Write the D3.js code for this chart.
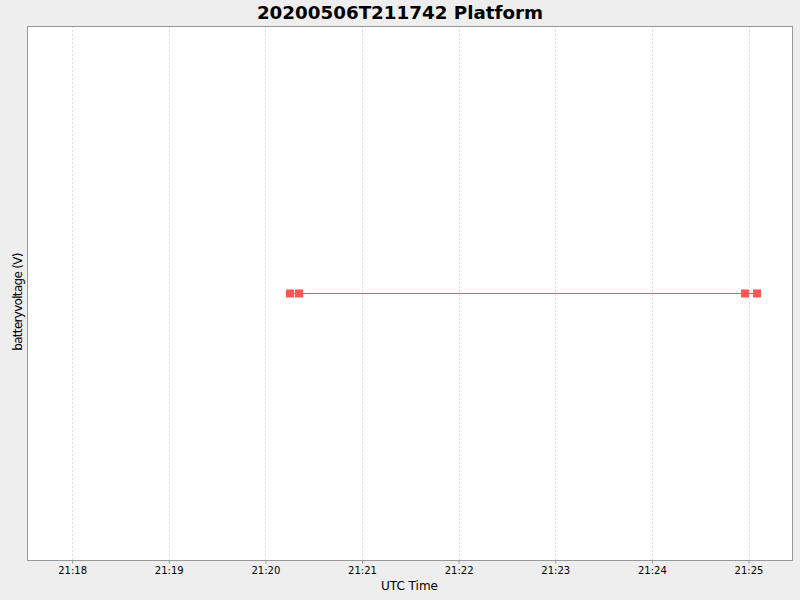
<!DOCTYPE html>
<html>
<head>
<meta charset="utf-8">
<script src="https://cdn.jsdelivr.net/npm/d3@7"></script>
<style>
  body { margin: 0; background: #eeeeee; }
  svg { display: block; font-family: "DejaVu Sans", sans-serif; }
</style>
</head>
<body>
<svg id="chart" width="800" height="600"></svg>
<script>
// battery voltage samples (UTC)
const times = ["2020-05-06T21:20:15Z", "2020-05-06T21:20:21Z", "2020-05-06T21:24:58Z", "2020-05-06T21:25:05Z"];
const volts = [12.5, 12.5, 12.5, 12.5];
const xDomain = ["2020-05-06T21:17:32Z", "2020-05-06T21:25:27Z"];
const tickLabels = ["21:18", "21:19", "21:20", "21:21", "21:22", "21:23", "21:24", "21:25"];

const svg = d3.select("#chart");
const W = 800, H = 600;
const m = { top: 26, right: 8, bottom: 40, left: 27 };
const pw = W - m.left - m.right, ph = H - m.top - m.bottom;

const x = d3.scaleUtc().domain(xDomain.map(d => new Date(d))).range([m.left, m.left + pw]);
const y = d3.scaleLinear().domain([12.0, 13.0]).range([m.top + ph + 1, m.top]);

const data = times.map((t, i) => ({ t: new Date(t), v: volts[i] }));
const tickDates = tickLabels.map(s => new Date("2020-05-06T" + s + ":00Z"));

svg.append("rect").attr("x", m.left).attr("y", m.top).attr("width", pw).attr("height", ph)
    .attr("fill", "#ffffff");

// vertical grid
svg.append("g").selectAll("line").data(tickDates).join("line")
    .attr("x1", d => Math.round(x(d)) + 0.5).attr("x2", d => Math.round(x(d)) + 0.5)
    .attr("y1", m.top).attr("y2", m.top + ph)
    .attr("stroke", "#e0e0e0").attr("stroke-dasharray", "2,2");

svg.append("rect").attr("x", m.left + 0.5).attr("y", m.top + 0.5).attr("width", pw).attr("height", ph)
    .attr("fill", "none").attr("stroke", "#999999");

// x axis
const xAxis = d3.axisBottom(x).tickValues(tickDates).tickSize(3)
    .tickFormat((d, i) => tickLabels[i]);
const gx = svg.append("g").attr("transform", `translate(0,${m.top + ph + 0.5})`).call(xAxis);
gx.select(".domain").remove();
gx.selectAll(".tick line").attr("stroke", "#999999");
gx.selectAll("text").attr("font-size", 10).attr("fill", "#000").attr("dy", "0.75em")
    .attr("font-family", "DejaVu Sans, sans-serif");

svg.append("text").attr("x", m.left + pw / 2).attr("y", 590).attr("text-anchor", "middle")
    .attr("font-size", 12).text("UTC Time");

svg.append("text").attr("transform", `translate(22,302) rotate(-90)`)
    .attr("text-anchor", "middle").attr("font-size", 12).attr("letter-spacing", -0.7)
    .text("batteryvoltage (V)");

svg.append("text").attr("x", 400).attr("y", 19).attr("text-anchor", "middle")
    .attr("font-size", 18.3).attr("font-weight", "bold").text("20200506T211742 Platform");

// series
svg.append("path").datum(data)
    .attr("d", d3.line().x(d => x(d.t)).y(d => y(d.v)))
    .attr("fill", "none").attr("stroke", "#ff5555").attr("stroke-width", 1);

svg.append("g").selectAll("rect").data(data).join("rect")
    .attr("x", d => Math.round(x(d.t)) - 4).attr("y", d => y(d.v) - 4)
    .attr("width", 8).attr("height", 8).attr("fill", "#ff5555");
</script>
</body>
</html>
